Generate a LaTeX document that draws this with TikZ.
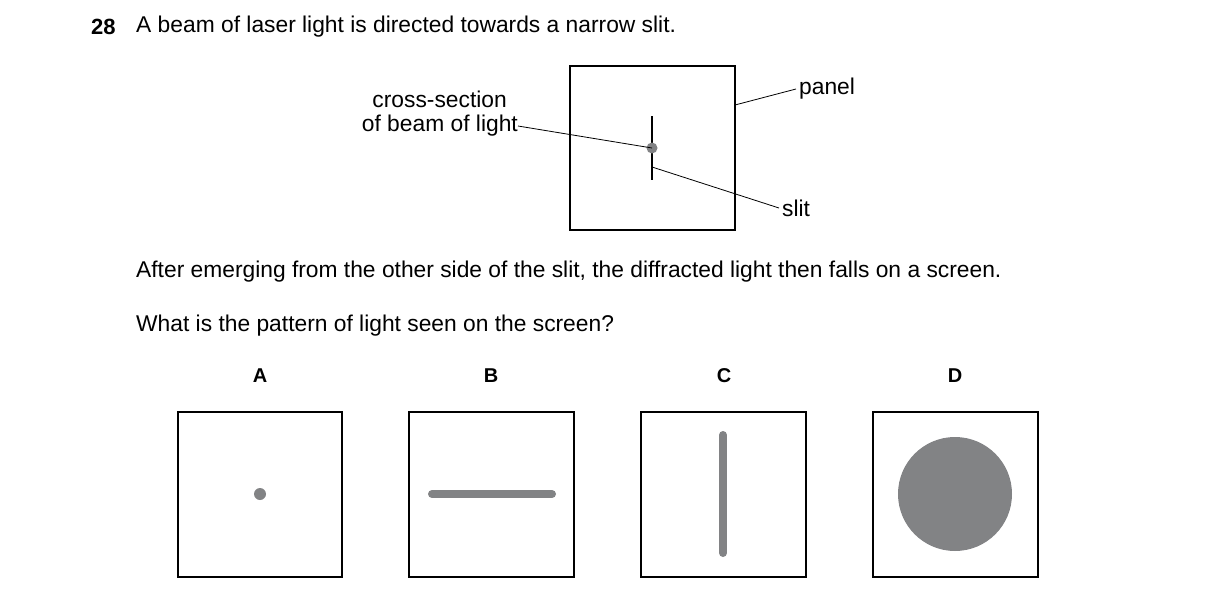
\documentclass[tikz,border=0pt]{standalone}
\usepackage{fontspec}
\setmainfont{Liberation Sans}
\begin{document}
\begin{tikzpicture}[x=1pt,y=-1pt,
  box/.style={draw,line width=1.3pt},
  lead/.style={line width=0.8pt},
  txt/.style={font=\fontsize{22.8}{26}\selectfont,inner sep=0pt},
  lab/.style={font=\fontsize{20}{22}\selectfont\bfseries,inner sep=0pt}]
\definecolor{g}{HTML}{828385}
\useasboundingbox (0,0) rectangle (1216,602);
\node[txt,anchor=west,font=\fontsize{22}{24}\selectfont\bfseries] (n28) at (91,27) {28};
\node[txt,anchor=west] (t1) at (136,27) {A beam of laser light is directed towards a narrow slit.};
\node[box,minimum width=165,minimum height=164,inner sep=0pt] (panel) at (652.5,148) {};
\draw[line width=1.3pt] (652,116) coordinate (s1) -- (652,180) coordinate (s2);
\fill[g] (652,148) circle (5.5) coordinate (dot);
\node[txt,anchor=east,align=center] (cs1) at (507,99) {cross-section};
\node[txt,anchor=east] (cs2) at (518,126) {of beam of light};
\draw[lead] (cs2.east) -- (dot);
\node[txt,anchor=west] (pl) at (799,89) {panel};
\coordinate (pe) at (735,105);
\draw[lead] (pe) -- ([xshift=-3pt]pl.west);
\node[txt,anchor=west] (sl) at (782,208) {slit};
\coordinate (sm) at (652,167);
\draw[lead] (sm) -- ([xshift=-3pt]sl.west);
\node[txt,anchor=west] (t2) at (136,272) {After emerging from the other side of the slit, the diffracted light then falls on a screen.};
\node[txt,anchor=west] (t3) at (136,326) {What is the pattern of light seen on the screen?};
\node[lab] (la) at (260,376) {A};
\node[lab] (lb) at (491,376) {B};
\node[lab] (lc) at (724,376) {C};
\node[lab] (ld) at (955,376) {D};
\draw[box] (178,412) rectangle (342,577);
\draw[box] (409,412) rectangle (574,577);
\draw[box] (641,412) rectangle (806,577);
\draw[box] (873,412) rectangle (1038,577);
\fill[g] (260,494) circle (6);
\draw[g,line width=8pt,line cap=round] (432,494) -- (552,494);
\draw[g,line width=8pt,line cap=round] (723,435) -- (723,553);
\fill[g] (955,494) circle (57);
\end{tikzpicture}
\end{document}
